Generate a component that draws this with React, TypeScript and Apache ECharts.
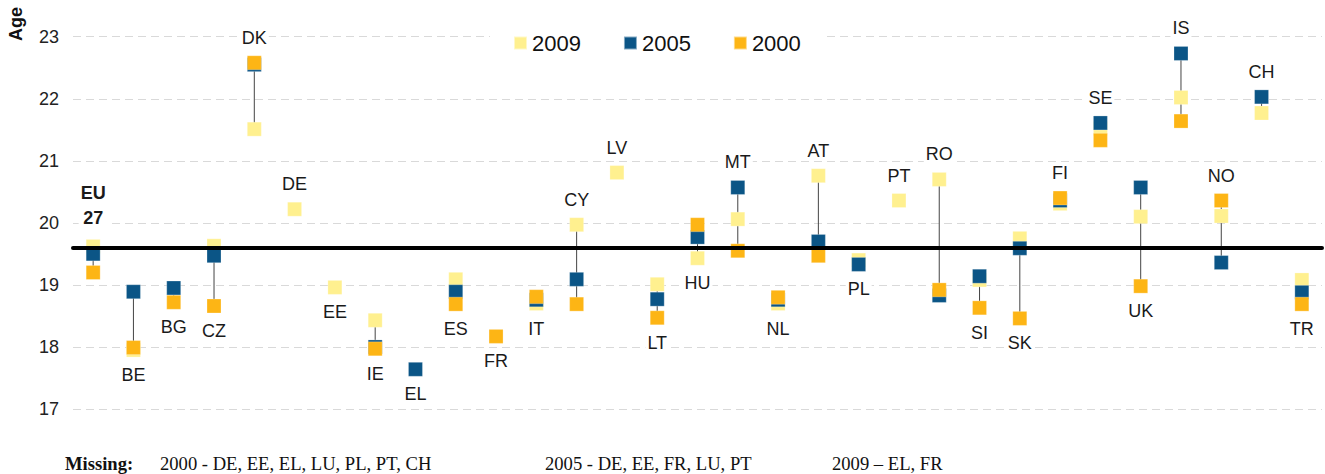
import React, { useEffect, useRef } from "react";
import * as echarts from "echarts";

const categories = ["EU 27", "BE", "BG", "CZ", "DK", "DE", "EE", "IE", "EL", "ES", "FR", "IT", "CY", "LV", "LT", "HU", "MT", "NL", "AT", "PL", "PT", "RO", "SI", "SK", "FI", "SE", "UK", "IS", "NO", "CH", "TR"];

const values2009: (number | null)[] = [19.62, 17.95, null, 19.63, 21.51, 20.22, 18.96, 18.43, null, 19.09, null, 18.7, 19.97, 20.81, 19.01, 19.43, 20.06, 18.7, 20.76, 19.4, 20.36, 20.7, 19.08, 19.75, 20.31, 21.52, 20.1, 22.02, 20.11, 21.77, 19.08];
const values2005: (number | null)[] = [19.5, 18.89, 18.95, 19.47, 22.55, null, null, 18.0, 17.64, 18.89, null, 18.76, 19.09, null, 18.77, 19.77, 20.57, 18.76, 19.7, 19.33, null, 18.83, 19.14, 19.59, 20.36, 21.61, 20.57, 22.73, 19.36, 22.03, 18.88];
const values2000: (number | null)[] = [19.2, 17.99, 18.72, 18.66, 22.58, null, null, 17.97, null, 18.69, 18.17, 18.81, 18.69, null, 18.47, 19.97, 19.55, 18.8, 19.47, null, null, 18.92, 18.63, 18.46, 20.4, 21.33, 18.98, 21.64, 20.36, null, 18.69];

// label placed above ("top") or below ("bottom") each country's markers
const labelSide = ["top", "bottom", "bottom", "bottom", "top", "top", "bottom", "bottom", "bottom", "bottom", "bottom", "bottom", "top", "top", "bottom", "bottom", "top", "bottom", "top", "bottom", "top", "top", "bottom", "bottom", "top", "top", "bottom", "top", "top", "top", "bottom"];

const EU_LINE = 19.6;
const yTicks = { min: 17, max: 23, interval: 1 };

const seriesNames = ["2009", "2005", "2000"];
const seriesColors = ["#FFF08F", "#0B5586", "#FDB515"];

const missingNotes = ["2000 - DE, EE, EL, LU, PL, PT, CH", "2005 - DE, EE, FR, LU, PT", "2009 \u2013 EL, FR"];

export default function App() {
  const ref = useRef<HTMLDivElement>(null);

  useEffect(() => {
    if (!ref.current) return;
    const chart = echarts.init(ref.current, null, { renderer: "svg" });

    const all = [values2009, values2005, values2000];
    const rangeData: number[][] = [];
    const labelData: any[] = [];
    categories.forEach((c, i) => {
      const vals = all.map((a) => a[i]).filter((v) => v !== null) as number[];
      if (!vals.length) return;
      const mn = Math.min(...vals);
      const mx = Math.max(...vals);
      if (vals.length > 1 && mx > mn) rangeData.push([i, mn, mx]);
      const side = labelSide[i];
      const isEU = i === 0;
      labelData.push({
        value: [i, side === "top" ? mx : mn],
        label: {
          position: side,
          distance: isEU ? 9 : 8,
          formatter: isEU ? "EU\n27" : c,
          fontWeight: isEU ? "bold" : "normal",
          lineHeight: isEU ? 25 : 20,
        },
      });
    });

    const font = "'Liberation Sans', Arial, sans-serif";
    const serif = "'Liberation Serif', 'Times New Roman', serif";

    const option: any = {
      animation: false,
      backgroundColor: "#fff",
      grid: { left: 73, right: 3, top: 36.7, bottom: 65 },
      legend: {
        data: seriesNames,
        left: 490,
        top: 27,
        padding: [5, 25, 5, 23],
        backgroundColor: "#fff",
        icon: "rect",
        itemWidth: 13,
        itemHeight: 13,
        itemGap: 42,
        itemStyle: { opacity: 1 },
        textStyle: { fontSize: 22, color: "#111", fontFamily: font },
      },
      xAxis: {
        type: "category",
        data: categories,
        boundaryGap: true,
        axisLabel: { show: false },
        axisTick: { show: false },
        axisLine: { show: false },
        splitLine: { show: false },
      },
      yAxis: {
        type: "value",
        min: yTicks.min,
        max: yTicks.max,
        interval: yTicks.interval,
        axisLine: { show: false },
        axisTick: { show: false },
        axisLabel: { fontSize: 18, color: "#222", margin: 14, fontFamily: font },
        splitLine: { lineStyle: { color: "#d9d9d9", width: 1, type: [8, 5] } },
      },
      graphic: [
        {
          type: "text",
          x: 16,
          y: 24,
          rotation: Math.PI / 2,
          style: { text: "Age", font: `bold 18px ${font}`, fill: "#111", textAlign: "center", textVerticalAlign: "middle" },
        },
        {
          type: "text",
          x: 65,
          y: 463,
          style: { text: "Missing:", font: `bold 18.6px ${serif}`, fill: "#111", textVerticalAlign: "middle" },
        },
        ...missingNotes.map((t, k) => ({
          type: "text",
          x: [160, 545, 832][k],
          y: 463,
          style: { text: t, font: `18.6px ${serif}`, fill: "#111", textVerticalAlign: "middle" },
        })),
      ],
      series: [
        {
          type: "custom",
          name: "range",
          z: 1,
          silent: true,
          data: rangeData,
          encode: { x: 0, y: [1, 2] },
          renderItem: (params: any, api: any) => {
            const p1 = api.coord([api.value(0), api.value(1)]);
            const p2 = api.coord([api.value(0), api.value(2)]);
            return {
              type: "line",
              shape: { x1: p1[0], y1: p1[1], x2: p2[0], y2: p2[1] },
              style: { stroke: "#444", lineWidth: 1 },
            };
          },
          markLine: {
            silent: true,
            symbol: ["none", "none"],
            label: { show: false },
            lineStyle: { color: "#000", width: 4, type: "solid", cap: "round", opacity: 1 },
            data: [{ yAxis: EU_LINE }],
          },
        },
        ...all.map((arr, k) => ({
          type: "scatter",
          name: seriesNames[k],
          z: 3,
          symbol: "rect",
          symbolSize: 14,
          itemStyle: { color: seriesColors[k], opacity: 1, borderColor: "rgba(255,255,255,0.5)", borderWidth: 0.5 },
          data: arr.map((v, i) => (v === null ? [i, "-"] : [i, v])),
        })),
        {
          type: "scatter",
          name: "labels",
          z: 2,
          silent: true,
          symbol: "rect",
          symbolSize: 14,
          itemStyle: { opacity: 0 },
          label: {
            show: true,
            opacity: 1,
            fontSize: 18,
            color: "#1a1a1a",
            fontFamily: font,
            backgroundColor: "#fff",
            padding: [0, 2],
          },
          emphasis: { disabled: true },
          data: labelData,
        },
      ],
    };

    chart.setOption(option);
    return () => chart.dispose();
  }, []);

  return <div ref={ref} style={{ position: "fixed", left: 0, top: 0, width: 1325, height: 474 }} />;
}
